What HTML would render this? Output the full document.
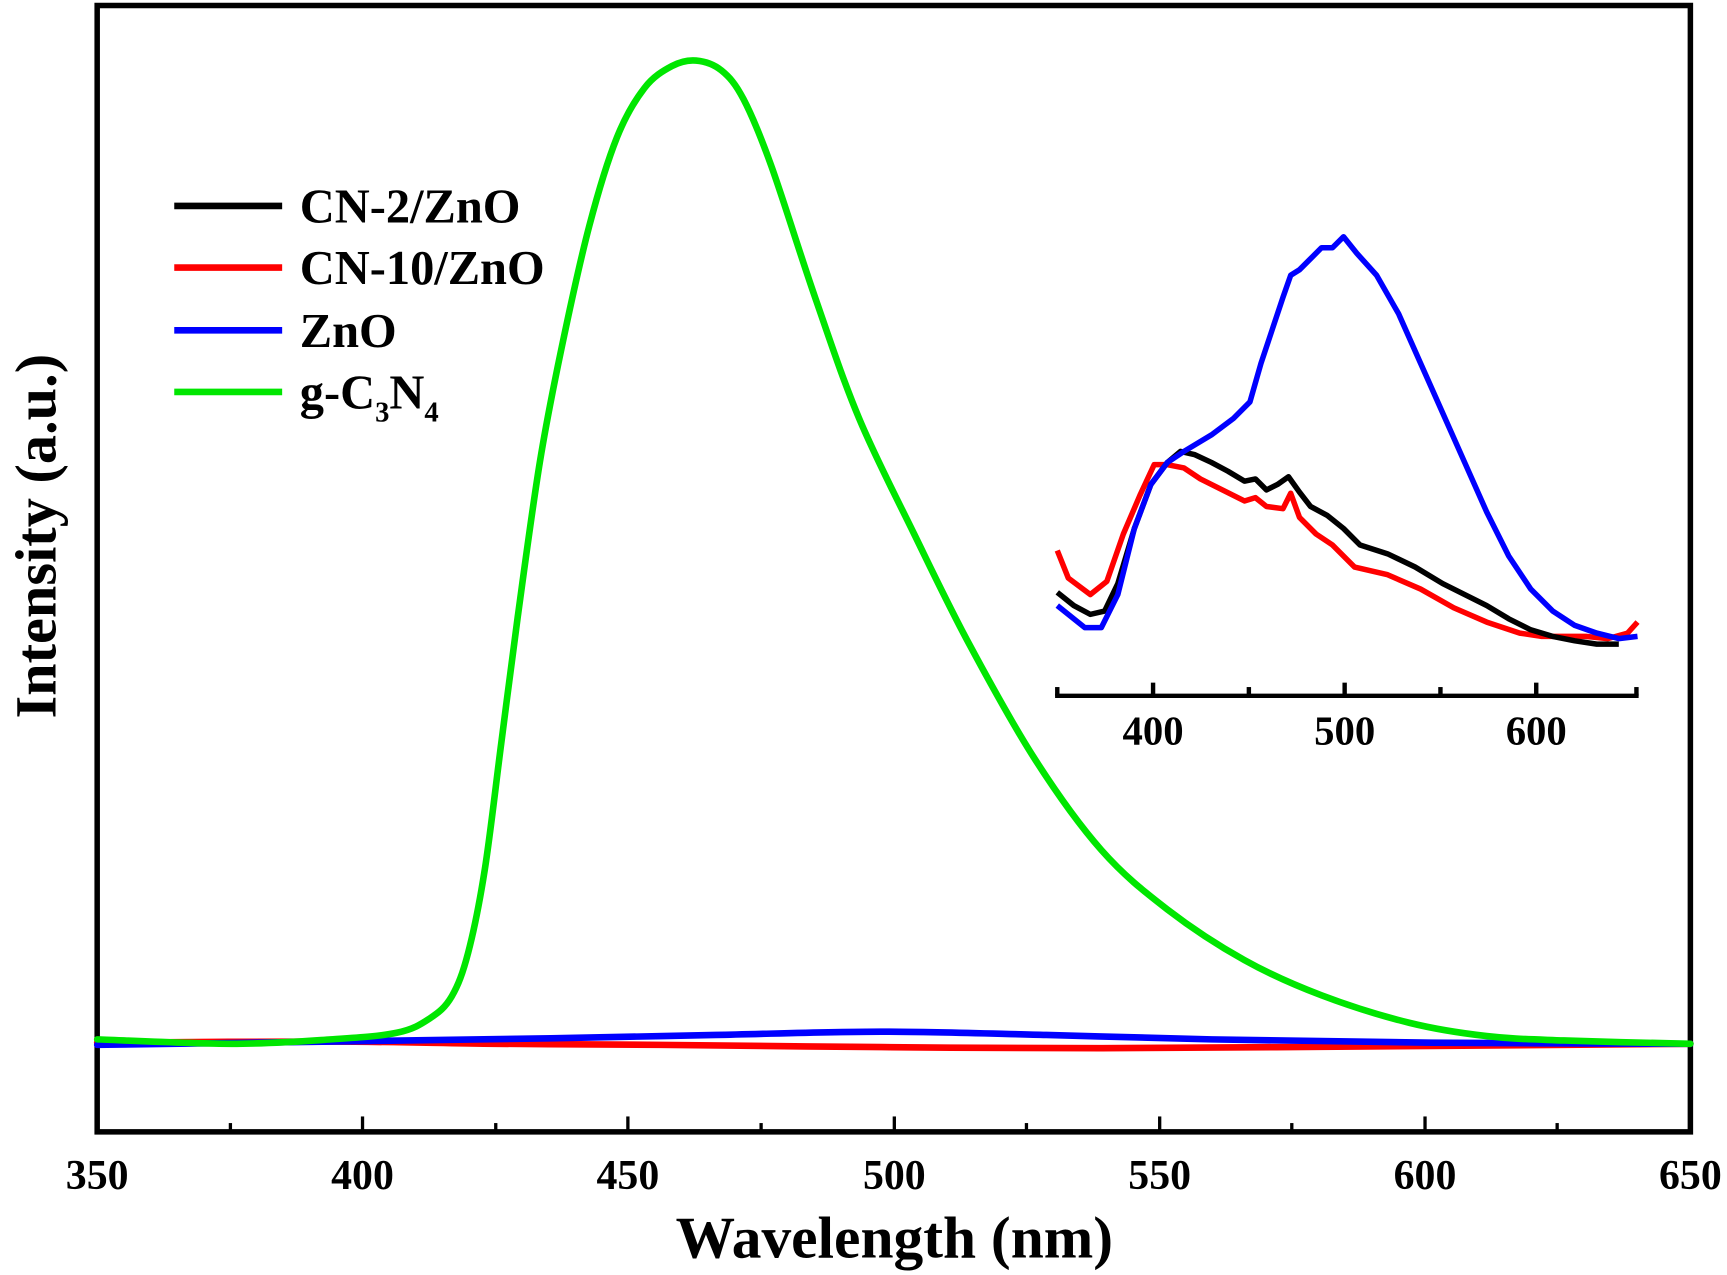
<!DOCTYPE html>
<html><head><style>html,body{margin:0;padding:0;background:#fff}svg{display:block}</style></head><body>
<svg id="s" width="1727" height="1275" viewBox="0 0 1568 1158" xmlns="http://www.w3.org/2000/svg" font-family="Liberation Serif, serif" font-weight="bold">
<rect x="88" y="5" width="1447" height="1023" fill="none" stroke="#000" stroke-width="5"/>
<g stroke="#000" stroke-width="3">
<line x1="329" y1="1028" x2="329" y2="1014"/><line x1="570" y1="1028" x2="570" y2="1014"/><line x1="812" y1="1028" x2="812" y2="1014"/><line x1="1053" y1="1028" x2="1053" y2="1014"/><line x1="1294" y1="1028" x2="1294" y2="1014"/>
<line x1="209" y1="1028" x2="209" y2="1020"/><line x1="450" y1="1028" x2="450" y2="1020"/><line x1="691" y1="1028" x2="691" y2="1020"/><line x1="932" y1="1028" x2="932" y2="1020"/><line x1="1173" y1="1028" x2="1173" y2="1020"/><line x1="1414" y1="1028" x2="1414" y2="1020"/>
</g>
<g font-size="38" text-anchor="middle">
<text x="88" y="1080">350</text><text x="329" y="1080">400</text><text x="570" y="1080">450</text><text x="812" y="1080">500</text><text x="1053" y="1080">550</text><text x="1294" y="1080">600</text><text x="1535" y="1080">650</text>
</g>
<text x="812" y="1142" font-size="54" text-anchor="middle">Wavelength (nm)</text>
<text transform="translate(50,487) rotate(-90)" font-size="53" text-anchor="middle">Intensity (a.u.)</text>
<g fill="none" stroke-width="6" stroke-linejoin="round" stroke-linecap="round">
<polyline class="sm" stroke="#ff0000" points="88,947 300,946 450,948 600,949 800,951 1000,952 1300,950 1535,948"/>
<polyline class="sm" stroke="#0000ff" points="88,949 300,946 500,943 650,940 800,937 950,940 1100,944 1300,947 1535,948"/>
<polyline class="sm" stroke="#00e600" points="88,944 210,948 300,944 360,938 390,925 410,905 425,865 440,790 455,675 470,560 490,420 510,315 535,205 560,125 585,80 610,60 632,55 655,64 675,90 700,150 740,270 780,380 830,485 880,585 940,690 1000,772 1060,826 1130,872 1200,904 1280,929 1350,941 1420,945 1535,948"/>
</g>
<g fill="none" stroke-width="5" stroke-linejoin="round">
<polyline stroke="#ff0000" points="960,500 970,525 990,540 1005,528 1020,485 1035,450 1048,422 1060,422 1075,425 1090,435 1110,445 1130,455 1140,452 1150,460 1165,462 1172,448 1180,470 1195,485 1210,495 1230,515 1260,522 1290,535 1320,552 1350,565 1380,575 1400,578 1420,578 1440,578 1460,580 1478,575 1487,565"/>
<polyline stroke="#000" points="960,538 975,550 990,558 1003,555 1015,530 1030,480 1045,440 1060,420 1072,410 1085,413 1100,420 1115,428 1130,437 1140,435 1150,445 1160,440 1170,433 1180,447 1190,460 1205,468 1220,480 1235,495 1260,503 1285,515 1310,530 1330,540 1350,550 1370,562 1390,572 1410,578 1430,582 1450,585 1470,585"/>
<polyline stroke="#0000ff" points="960,550 985,570 1000,570 1015,540 1030,480 1045,440 1060,420 1075,410 1100,395 1120,380 1135,365 1145,330 1155,300 1165,270 1172,250 1180,245 1190,235 1200,225 1210,225 1220,215 1232,230 1250,250 1270,285 1290,330 1310,375 1330,420 1350,465 1370,505 1390,535 1410,555 1430,568 1450,575 1470,580 1487,578"/>
</g>
<g stroke="#000" stroke-width="4">
<line x1="958" y1="632" x2="1488" y2="632"/>
<line x1="960" y1="632" x2="960" y2="624"/><line x1="1047" y1="632" x2="1047" y2="620"/><line x1="1134" y1="632" x2="1134" y2="624"/><line x1="1221" y1="632" x2="1221" y2="620"/><line x1="1308" y1="632" x2="1308" y2="624"/><line x1="1395" y1="632" x2="1395" y2="620"/><line x1="1486" y1="632" x2="1486" y2="624"/>
</g>
<g font-size="37" text-anchor="middle"><text x="1047" y="676">400</text><text x="1221" y="676">500</text><text x="1395" y="676">600</text></g>
<g stroke-width="6">
<line x1="158" y1="187" x2="256" y2="187" stroke="#000"/>
<line x1="158" y1="243" x2="256" y2="243" stroke="#ff0000"/>
<line x1="158" y1="300" x2="256" y2="300" stroke="#0000ff"/>
<line x1="158" y1="356" x2="256" y2="356" stroke="#00e600"/>
</g>
<g font-size="44">
<text x="272" y="202">CN-2/ZnO</text>
<text x="272" y="258">CN-10/ZnO</text>
<text x="272" y="315">ZnO</text>
<text x="272" y="371">g-C<tspan font-size="26" dy="12">3</tspan><tspan dy="-12">N</tspan><tspan font-size="26" dy="12">4</tspan></text>
</g>
</svg>
<script>
document.querySelectorAll('polyline.sm').forEach(function(pl){
  var p=pl.getAttribute('points').trim().split(/\s+/).map(function(s){return s.split(',').map(Number);});
  var d='M'+p[0][0]+','+p[0][1];
  for(var i=0;i<p.length-1;i++){
    var p0=p[i-1]||p[i],p1=p[i],p2=p[i+1],p3=p[i+2]||p2;
    var c1=[p1[0]+(p2[0]-p0[0])/6,p1[1]+(p2[1]-p0[1])/6];
    var c2=[p2[0]-(p3[0]-p1[0])/6,p2[1]-(p3[1]-p1[1])/6];
    d+=' C'+c1.join(',')+' '+c2.join(',')+' '+p2.join(',');
  }
  var path=document.createElementNS('http://www.w3.org/2000/svg','path');
  path.setAttribute('d',d);path.setAttribute('stroke',pl.getAttribute('stroke'));
  pl.parentNode.replaceChild(path,pl);
});
</script>
</body></html>
